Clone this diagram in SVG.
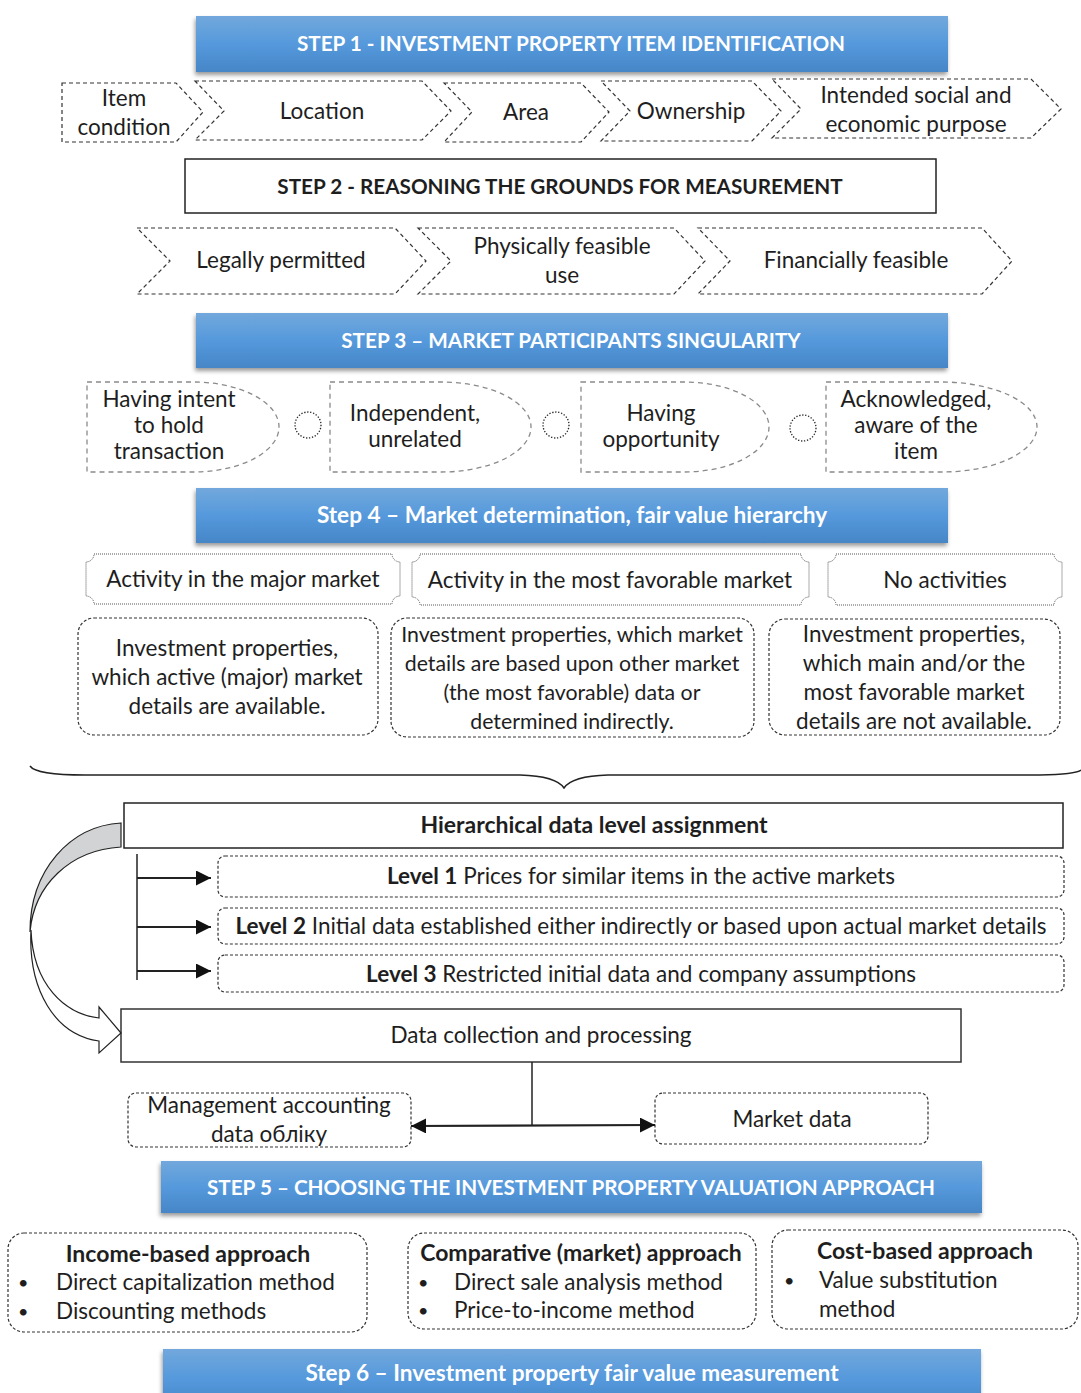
<svg xmlns="http://www.w3.org/2000/svg" width="1081" height="1393" viewBox="0 0 1081 1393">
<style>
  text { font-family: Lato, "Open Sans", sans-serif; fill: #1e1e1e; }
  .t { font-size: 22.5px; text-anchor: middle; }
  .ts { font-size: 21.3px; text-anchor: middle; }
  .tl { font-size: 22.5px; }
  .bul { font-size: 18px; }
  .b { font-weight: bold; }
  .tb { font-size: 23px; font-weight: bold; text-anchor: middle; }
  .ban { font-size: 20.7px; font-weight: bold; fill: #ffffff; text-anchor: middle; }
  .ban2 { font-size: 22.6px; font-weight: bold; fill: #ffffff; text-anchor: middle; }
  .chev { fill: #fff; stroke: #333; stroke-width: 1.2; stroke-dasharray: 4 3; }
  .delay { fill: #fff; stroke: #8a8a8a; stroke-width: 1.3; stroke-dasharray: 5 4; }
  .dot { fill: none; stroke: #222; stroke-width: 1.3; stroke-dasharray: 1.3 1.7; }
  .plaque { fill: #fff; stroke: #555; stroke-width: 1; stroke-dasharray: 1 1; }
  .rbox { fill: #fff; stroke: #333; stroke-width: 1.2; stroke-dasharray: 3 2; }
  .solid { fill: #fff; stroke: #222; stroke-width: 1.5; }
  .line { fill: none; stroke: #222; stroke-width: 2.2; }
</style>
<defs>
  <linearGradient id="blue" x1="0" y1="0" x2="0" y2="1">
    <stop offset="0" stop-color="#72a8dc"/>
    <stop offset="0.5" stop-color="#5599dc"/>
    <stop offset="1" stop-color="#4686c7"/>
  </linearGradient>
  <filter id="sh" x="-5%" y="-20%" width="110%" height="150%">
    <feDropShadow dx="-1" dy="3" stdDeviation="2" flood-color="#000" flood-opacity="0.4"/>
  </filter>
  <marker id="ah" viewBox="0 0 10 10" refX="10" refY="5" markerWidth="15" markerHeight="15" markerUnits="userSpaceOnUse" orient="auto-start-reverse">
    <path d="M0,0 L10,5 L0,10 Z" fill="#111"/>
  </marker>
</defs>

<!-- STEP 1 -->
<g id="step1">
  <rect x="196" y="16" width="752" height="56" fill="url(#blue)" filter="url(#sh)"/>
  <text class="ban" x="571" y="51">STEP 1 - INVESTMENT PROPERTY ITEM IDENTIFICATION</text>
</g>
<g id="item-condition">
  <path class="chev" d="M62,83 L176,83 L203,112 L176,142 L62,142 Z"/>
  <text class="t" x="124" y="106">Item</text>
  <text class="t" x="124" y="135">condition</text>
</g>
<g id="location">
  <path class="chev" d="M195,81 L422,81 L451,111 L422,140 L195,140 L224,111 Z"/>
  <text class="t" x="322" y="119">Location</text>
</g>
<g id="area">
  <path class="chev" d="M444,83 L581,83 L609,112 L581,142 L444,142 L472,112 Z"/>
  <text class="t" x="526" y="120">Area</text>
</g>
<g id="ownership">
  <path class="chev" d="M601,81 L752,81 L781,111 L752,141 L601,141 L630,111 Z"/>
  <text class="t" x="691" y="119">Ownership</text>
</g>
<g id="intended">
  <path class="chev" d="M772,79 L1031,79 L1061,109 L1031,138 L772,138 L801,109 Z"/>
  <text class="t" x="916" y="103">Intended social and</text>
  <text class="t" x="916" y="132">economic purpose</text>
</g>

<!-- STEP 2 -->
<g id="step2">
  <rect x="185" y="159" width="751" height="54" fill="#fff" stroke="#222" stroke-width="1.5"/>
  <text class="ban" x="560" y="194" style="fill:#1e1e1e">STEP 2 - REASONING THE GROUNDS FOR MEASUREMENT</text>
</g>
<g id="legally">
  <path class="chev" d="M137,228 L395,228 L426,261 L395,294 L137,294 L170,261 Z"/>
  <text class="t" x="281" y="268">Legally permitted</text>
</g>
<g id="physically">
  <path class="chev" d="M418,228 L674,228 L705,261 L674,294 L418,294 L451,261 Z"/>
  <text class="t" x="562" y="254">Physically feasible</text>
  <text class="t" x="562" y="283">use</text>
</g>
<g id="financially">
  <path class="chev" d="M698,228 L982,228 L1012,261 L982,294 L698,294 L730,261 Z"/>
  <text class="t" x="856" y="268">Financially feasible</text>
</g>

<!-- STEP 3 -->
<g id="step3">
  <rect x="196" y="313" width="752" height="55" fill="url(#blue)" filter="url(#sh)"/>
  <text class="ban" x="571" y="348">STEP 3 – MARKET PARTICIPANTS SINGULARITY</text>
</g>
<g id="intent">
  <path class="delay" d="M87,382 L193,382 A86,45 0 0 1 193,472 L87,472 Z"/>
  <text class="t" x="169" y="407">Having intent</text>
  <text class="t" x="169" y="433">to hold</text>
  <text class="t" x="169" y="459">transaction</text>
</g>
<g id="sep1"><circle class="dot" cx="308" cy="425" r="13"/></g>
<g id="independent">
  <path class="delay" d="M330,382 L441,382 A90,45 0 0 1 441,472 L330,472 Z"/>
  <text class="t" x="415" y="421">Independent,</text>
  <text class="t" x="415" y="447">unrelated</text>
</g>
<g id="sep2"><circle class="dot" cx="556" cy="425" r="13"/></g>
<g id="opportunity">
  <path class="delay" d="M581,382 L684,382 A85,45 0 0 1 684,472 L581,472 Z"/>
  <text class="t" x="661" y="421">Having</text>
  <text class="t" x="661" y="447">opportunity</text>
</g>
<g id="sep3"><circle class="dot" cx="803" cy="428" r="13"/></g>
<g id="acknowledged">
  <path class="delay" d="M826,382 L942,382 A95,45 0 0 1 942,472 L826,472 Z"/>
  <text class="t" x="916" y="407">Acknowledged,</text>
  <text class="t" x="916" y="433">aware of the</text>
  <text class="t" x="916" y="459">item</text>
</g>

<!-- STEP 4 -->
<g id="step4">
  <rect x="196" y="488" width="752" height="55" fill="url(#blue)" filter="url(#sh)"/>
  <text class="ban2" x="572" y="523">Step 4 – Market determination, fair value hierarchy</text>
</g>
<g id="act-major">
  <path class="plaque" d="M94,554 L392,554 A8,8 0 0 0 400,562 L400,596 A8,8 0 0 0 392,604 L94,604 A8,8 0 0 0 86,596 L86,562 A8,8 0 0 0 94,554 Z"/>
  <text class="t" x="243" y="587">Activity in the major market</text>
</g>
<g id="act-favorable">
  <path class="plaque" d="M420,554 L801,554 A8,8 0 0 0 809,562 L809,597 A8,8 0 0 0 801,605 L420,605 A8,8 0 0 0 412,597 L412,562 A8,8 0 0 0 420,554 Z"/>
  <text class="t" x="610" y="588">Activity in the most favorable market</text>
</g>
<g id="act-none">
  <path class="plaque" d="M836,554 L1054,554 A8,8 0 0 0 1062,562 L1062,597 A8,8 0 0 0 1054,605 L836,605 A8,8 0 0 0 828,597 L828,562 A8,8 0 0 0 836,554 Z"/>
  <text class="t" x="945" y="588">No activities</text>
</g>
<g id="desc-major">
  <rect class="rbox" x="78" y="618" width="300" height="117" rx="16"/>
  <text class="t" x="227" y="656">Investment properties,</text>
  <text class="t" x="227" y="685">which active (major) market</text>
  <text class="t" x="227" y="714">details are available.</text>
</g>
<g id="desc-favorable">
  <rect class="rbox" x="391" y="618" width="363" height="119" rx="16"/>
  <text class="ts" x="572" y="642">Investment properties, which market</text>
  <text class="ts" x="572" y="671">details are based upon other market</text>
  <text class="ts" x="572" y="700">(the most favorable) data or</text>
  <text class="ts" x="572" y="729">determined indirectly.</text>
</g>
<g id="desc-none">
  <rect class="rbox" x="769" y="619" width="291" height="116" rx="16"/>
  <text class="t" x="914" y="642">Investment properties,</text>
  <text class="t" x="914" y="671">which main and/or the</text>
  <text class="t" x="914" y="700">most favorable market</text>
  <text class="t" x="914" y="729">details are not available.</text>
</g>

<g id="brace">
  <path d="M30,766 Q36,775 85,775 L520,775 Q556,776 564,788 Q572,776 608,775 L1040,775 Q1076,774 1081,770" fill="none" stroke="#222" stroke-width="1.5"/>
</g>

<!-- Hierarchy -->
<g id="hierarchy">
  <rect class="solid" x="124" y="803" width="939" height="45"/>
  <text class="tb" x="594" y="833">Hierarchical data level assignment</text>
</g>
<g id="level1">
  <rect class="rbox" x="218" y="856" width="846" height="41" rx="7"/>
  <text class="t" x="641" y="884"><tspan class="b">Level 1</tspan> Prices for similar items in the active markets</text>
</g>
<g id="level2">
  <rect class="rbox" x="218" y="908" width="846" height="36" rx="7"/>
  <text class="t" x="641" y="934"><tspan class="b">Level 2</tspan> Initial data established either indirectly or based upon actual market details</text>
</g>
<g id="level3">
  <rect class="rbox" x="218" y="955" width="846" height="37" rx="7"/>
  <text class="t" x="641" y="982"><tspan class="b">Level 3</tspan> Restricted initial data and company assumptions</text>
</g>
<g id="data-collection">
  <rect x="121" y="1009" width="840" height="53" fill="#fff" stroke="#333" stroke-width="1.5"/>
  <text class="t" x="541" y="1043">Data collection and processing</text>
</g>
<g id="management">
  <rect class="rbox" x="128" y="1093" width="283" height="54" rx="8"/>
  <text class="t" x="269" y="1113">Management accounting</text>
  <text class="t" x="269" y="1142">data обліку</text>
</g>
<g id="market-data">
  <rect class="rbox" x="655" y="1093" width="273" height="51" rx="8"/>
  <text class="t" x="792" y="1127">Market data</text>
</g>

<!-- connectors -->
<g id="connectors">
  <line x1="137" y1="854" x2="137" y2="980" stroke="#222" stroke-width="1.5"/>
  <line class="line" x1="137" y1="878" x2="211" y2="878" marker-end="url(#ah)"/>
  <line class="line" x1="137" y1="927" x2="211" y2="927" marker-end="url(#ah)"/>
  <line class="line" x1="137" y1="971" x2="211" y2="971" marker-end="url(#ah)"/>
  <path d="M121,823 C70,826 30,870 30,932 C34,885 70,850 121,847 Z" fill="#d1d3d4" stroke="#222" stroke-width="1.2"/>
  <path d="M31,930 C33,985 65,1014 99,1018 L99,1007 L121,1033 L99,1053 L99,1041 C55,1035 28,990 31,930 Z" fill="#fff" stroke="#222" stroke-width="1.2"/>
  <line x1="532" y1="1062" x2="532" y2="1125" stroke="#222" stroke-width="1.5"/>
  <line class="line" x1="411" y1="1126" x2="655" y2="1125" marker-start="url(#ah)" marker-end="url(#ah)"/>
</g>

<!-- STEP 5 -->
<g id="step5">
  <rect x="161" y="1161" width="821" height="52" fill="url(#blue)" filter="url(#sh)"/>
  <text class="ban" x="571" y="1195">STEP 5 – CHOOSING THE INVESTMENT PROPERTY VALUATION APPROACH</text>
</g>
<g id="income">
  <rect class="rbox" x="8" y="1233" width="359" height="99" rx="16"/>
  <text class="tb" x="188" y="1262">Income-based approach</text>
  <text class="bul" x="18" y="1289">•</text>
  <text class="tl" x="56" y="1290">Direct capitalization method</text>
  <text class="bul" x="18" y="1318">•</text>
  <text class="tl" x="56" y="1319">Discounting methods</text>
</g>
<g id="comparative">
  <rect class="rbox" x="408" y="1233" width="348" height="96" rx="16"/>
  <text class="tb" x="581" y="1261">Comparative (market) approach</text>
  <text class="bul" x="418" y="1289">•</text>
  <text class="tl" x="454" y="1290">Direct sale analysis method</text>
  <text class="bul" x="418" y="1317">•</text>
  <text class="tl" x="454" y="1318">Price-to-income method</text>
</g>
<g id="cost">
  <rect class="rbox" x="772" y="1230" width="306" height="99" rx="16"/>
  <text class="tb" x="925" y="1259">Cost-based approach</text>
  <text class="bul" x="784" y="1287">•</text>
  <text class="tl" x="819" y="1288">Value substitution</text>
  <text class="tl" x="819" y="1317">method</text>
</g>

<!-- STEP 6 -->
<g id="step6">
  <rect x="163" y="1349" width="818" height="60" fill="url(#blue)" filter="url(#sh)"/>
  <text class="ban2" x="572" y="1381">Step 6 – Investment property fair value measurement</text>
</g>
</svg>
